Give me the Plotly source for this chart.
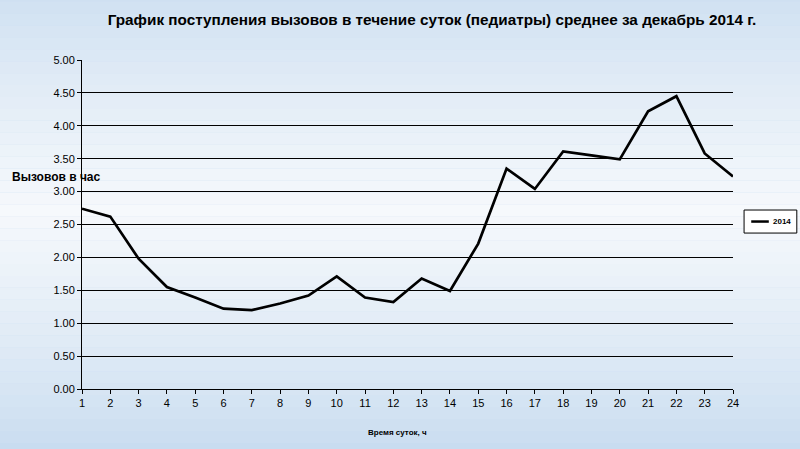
import plotly.graph_objects as go

hours = list(range(1, 25))
calls_2014 = [2.74, 2.62, 1.98, 1.55, 1.39, 1.22, 1.20, 1.30, 1.42, 1.71, 1.39, 1.32,
              1.68, 1.49, 2.21, 3.35, 3.04, 3.61, 3.55, 3.49, 4.22, 4.45, 3.58, 3.23]
y_ticks = [0, 0.5, 1, 1.5, 2, 2.5, 3, 3.5, 4, 4.5, 5]
series_name = "2014"

TITLE = "График поступления вызовов в течение суток (педиатры) среднее за декабрь 2014 г."
FONT = "Liberation Sans, Arial, sans-serif"
NARROW = "Liberation Sans Narrow, Liberation Sans, Arial, sans-serif"


def band_color(t):
    # светлая середина, голубые края
    top = (200, 220, 240)
    mid = (246, 249, 252)
    k = 1 - abs(t - 0.5) / 0.5
    k = max(0.0, min(1.0, k)) ** 0.8
    r, g, b = [int(a + (m - a) * k) for a, m in zip(top, mid)]
    return f"rgb({r},{g},{b})"


shapes = []
n = 40
for i in range(n):
    shapes.append(dict(
        type="rect", xref="paper", yref="paper", layer="below",
        x0=-0.2, x1=1.2, y0=-0.2 + 1.45 * i / n, y1=-0.2 + 1.45 * (i + 1) / n,
        fillcolor=band_color(i / n), line=dict(width=0),
    ))

# легенда справа (рамка + образец линии)
shapes.append(dict(type="rect", xref="paper", yref="paper", layer="above",
                   x0=1.017, x1=1.098, y0=0.474, y1=0.544,
                   fillcolor="white", line=dict(color="black", width=1)))
shapes.append(dict(type="line", xref="paper", yref="paper", layer="above",
                   x0=1.028, x1=1.055, y0=0.509, y1=0.509,
                   line=dict(color="black", width=2.5)))

fig = go.Figure()
fig.add_trace(go.Scatter(
    x=hours, y=calls_2014, mode="lines", name=series_name,
    line=dict(color="black", width=2.7),
))

fig.update_layout(
    width=800, height=449,
    margin=dict(l=82, r=67, t=60, b=60),
    paper_bgcolor="rgb(206,224,242)",
    plot_bgcolor="rgba(0,0,0,0)",
    shapes=shapes,
    showlegend=False,
    title=dict(text=TITLE, x=0.54, xanchor="center", y=0.957, yanchor="middle",
               font=dict(family=NARROW, size=15.3, color="black", weight="bold")),
    xaxis=dict(range=[1, 24], tickvals=hours, showgrid=False, zeroline=False,
               showline=True, linecolor="black", linewidth=1,
               ticks="outside", ticklen=4, tickcolor="black",
               tickfont=dict(family=FONT, size=11, color="black")),
    yaxis=dict(range=[0, 5], tickvals=y_ticks, tickformat=".2f",
               showgrid=True, gridcolor="black", gridwidth=1, zeroline=False,
               showline=True, linecolor="black", linewidth=1,
               ticks="outside", ticklen=4, tickcolor="black",
               tickfont=dict(family=FONT, size=11, color="black")),
    annotations=[
        dict(text="Вызовов в час", xref="paper", yref="paper", x=-0.1106, y=0.645,
             xanchor="left", yanchor="middle", showarrow=False,
             font=dict(family=FONT, size=12, color="black", weight="bold")),
        dict(text="Время суток, ч", xref="paper", yref="paper", x=0.485, y=-0.131,
             xanchor="center", yanchor="middle", showarrow=False,
             font=dict(family=FONT, size=8, color="black", weight="bold")),
        dict(text=series_name, xref="paper", yref="paper", x=1.058, y=0.509,
             xanchor="left", yanchor="middle", showarrow=False,
             font=dict(family=NARROW, size=8, color="black", weight="bold")),
    ],
)

fig.write_html("out.html", config={"displayModeBar": False},
               post_script="document.body.style.margin='0';")
